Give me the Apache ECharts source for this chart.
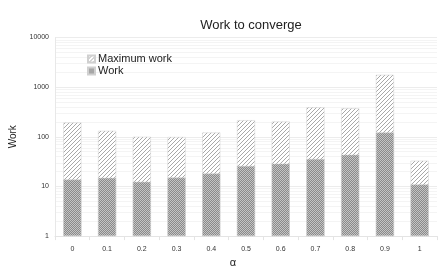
<!DOCTYPE html>
<html><head><meta charset="utf-8">
<script src="https://cdn.jsdelivr.net/npm/echarts@6/dist/echarts.min.js"></script>
<style>html,body{margin:0;padding:0;background:#fff}#c{width:438px;height:273px}</style>
</head><body><div id="c"></div>
<script>
const categories = ['0','0.1','0.2','0.3','0.4','0.5','0.6','0.7','0.8','0.9','1'];
const maxWork = [194, 132, 100, 99, 122, 216, 203, 393, 375, 1770, 33];
const work = [13.8, 14.9, 12.4, 15.1, 18.2, 25.9, 28.8, 35.8, 43.6, 122, 11];
const yTicks = ['1', '10', '100', '1000', '10000'];

function hatch() {
  const c = document.createElement('canvas');
  c.width = 4; c.height = 4;
  const g = c.getContext('2d');
  g.fillStyle = '#ffffff'; g.fillRect(0,0,4,4);
  g.strokeStyle = '#a8a8a8'; g.lineWidth = 1;
  g.beginPath();
  g.moveTo(0,4); g.lineTo(4,0);
  g.moveTo(-1,1); g.lineTo(1,-1);
  g.moveTo(3,5); g.lineTo(5,3);
  g.stroke();
  return c;
}
function checker() {
  const c = document.createElement('canvas');
  c.width = 2; c.height = 2;
  const g = c.getContext('2d');
  g.fillStyle = '#8a8a8a'; g.fillRect(0,0,2,2);
  g.fillStyle = '#c4c4c4'; g.fillRect(0,0,1,1); g.fillRect(1,1,1,1);
  return c;
}
const minorLines = [];
for (let d = 1; d < 10000; d *= 10) {
  for (let k = 2; k <= 9; k++) minorLines.push({yAxis: d * k});
}

const chart = echarts.init(document.getElementById('c'), null, {renderer: 'canvas'});
chart.setOption({
  animation: false,
  title: {
    text: 'Work to converge', left: 246, top: 14, textAlign: 'center',
    textStyle: {fontFamily: 'Liberation Sans, Arial', fontSize: 13, fontWeight: 'normal', color: '#222'}
  },
  legend: {
    orient: 'vertical', left: 82, top: 48, itemWidth: 7, itemHeight: 7, itemGap: 0, icon: 'rect',
    data: ['Maximum work', 'Work'],
    textStyle: {fontFamily: 'Liberation Sans, Arial', fontSize: 11, color: '#222', padding: [0,0,0,-2], lineHeight: 12}
  },
  grid: {left: 55, right: 1, top: 37.5, bottom: 35.3},
  xAxis: {
    type: 'category', data: categories,
    name: 'α', nameLocation: 'middle', nameGap: 20,
    nameTextStyle: {fontFamily: 'Liberation Sans, Arial', fontSize: 11, color: '#222', padding: [0, 26, 0, 0]},
    axisLine: {lineStyle: {color: '#e4e4e4'}},
    axisTick: {show: true, lineStyle: {color: '#e4e4e4'}, length: 4},
    axisLabel: {fontFamily: 'Liberation Sans, Arial', fontSize: 7, color: '#333', margin: 9}
  },
  yAxis: {
    type: 'log', logBase: 10, min: 1, max: 10000,
    name: 'Work', nameLocation: 'middle', nameGap: 33, nameRotate: 90,
    nameTextStyle: {fontFamily: 'Liberation Sans, Arial', fontSize: 10, color: '#222'},
    axisLine: {show: true, lineStyle: {color: '#e8e8e8'}},
    axisTick: {show: false},
    axisLabel: {
      fontFamily: 'Liberation Sans, Arial', fontSize: 7, color: '#333', margin: 6,
      formatter: function (v) { const s = String(Math.round(v)); return yTicks.indexOf(s) >= 0 ? s : ''; }
    },
    splitLine: {show: true, lineStyle: {color: '#ececec'}}
  },
  series: [
    {
      name: 'Maximum work', type: 'bar', data: maxWork, barWidth: '52%', barGap: '-100%',
      itemStyle: {color: {image: hatch(), repeat: 'repeat'}, borderColor: '#d0d0d0', borderWidth: 0.5},
      markLine: {
        silent: true, symbol: 'none', label: {show: false},
        lineStyle: {color: '#f4f4f4', width: 1, type: 'solid'},
        data: minorLines, z: 0
      },
      z: 2
    },
    {
      name: 'Work', type: 'bar', data: work, barWidth: '52%', barGap: '-100%',
      itemStyle: {color: {image: checker(), repeat: 'repeat'}, borderColor: '#d0d0d0', borderWidth: 0.5},
      z: 3
    }
  ]
});
</script></body></html>
